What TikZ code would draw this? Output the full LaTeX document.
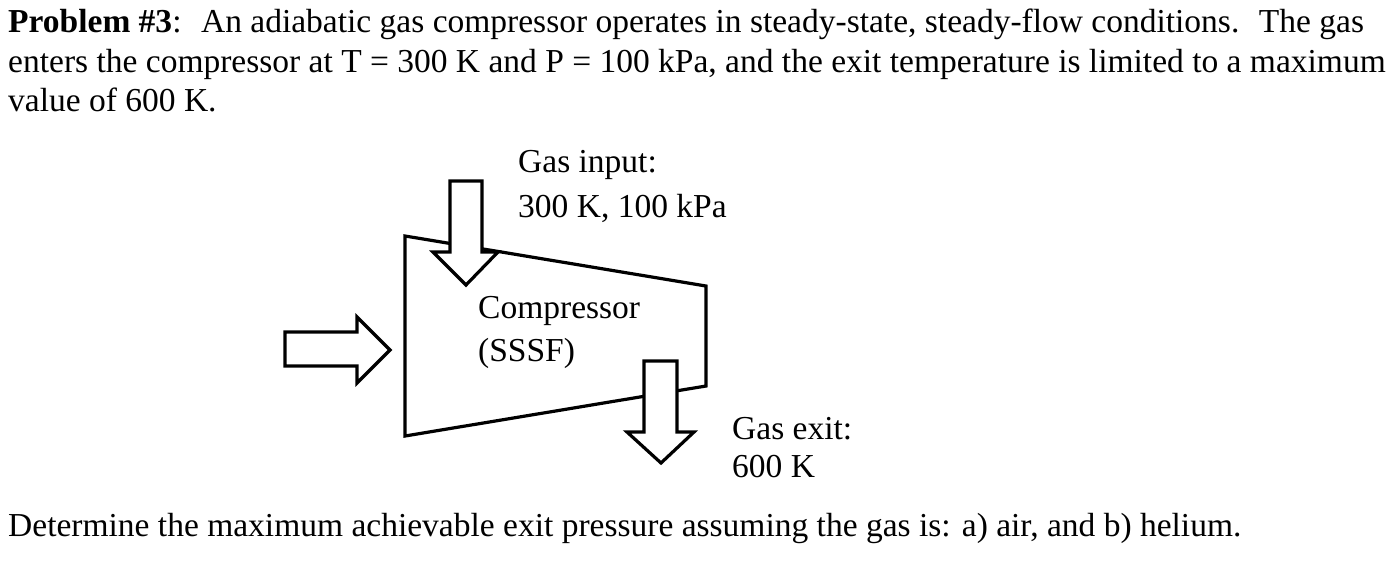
\documentclass[tikz,border=0pt]{standalone}
\usepackage{fontspec}
\setmainfont{Liberation Serif}
\begin{document}
\begin{tikzpicture}[x=1pt,y=-1pt,
  txt/.style={anchor=base west,inner sep=0pt,font=\fontsize{33.5}{38}\selectfont},
  shp/.style={draw=black,line width=3.2pt,fill=white,line join=miter}]
\useasboundingbox (0,0) rectangle (1400,562);
\node[txt] (l1) at (8,32) {\textbf{Problem \#3}: \ An adiabatic gas compressor operates in steady-state, steady-flow conditions. \ The gas};
\node[txt] (l2) at (8,72) {enters the compressor at T = 300 K and P = 100 kPa, and the exit temperature is limited to a maximum};
\node[txt] (l3) at (8,111) {value of 600 K.};
\draw[shp] (405,236) -- (706,286) -- (706,386) -- (405,436) -- cycle;
\draw[shp] (450,181) -- (482,181) -- (482,252) -- (498,252) -- (466,285) -- (433,252) -- (450,252) -- cycle;
\draw[shp] (285,332) -- (357,332) -- (357,317) -- (390,350) -- (357,383) -- (357,366) -- (285,366) -- cycle;
\draw[shp] (644,361) -- (677,361) -- (677,432) -- (694,432) -- (661,463) -- (627,432) -- (644,432) -- cycle;
\node[txt] (gi1) at (518,172) {Gas input:};
\node[txt] (gi2) at (518,217) {300 K, 100 kPa};
\node[txt] (c1) at (478,318) {Compressor};
\node[txt] (c2) at (478,361) {(SSSF)};
\node[txt] (ge1) at (732,439) {Gas exit:};
\node[txt] (ge2) at (732,477) {600 K};
\node[txt] (l4) at (8,536) {Determine the maximum achievable exit pressure assuming the gas is: a) air, and b) helium.};
\end{tikzpicture}
\end{document}
